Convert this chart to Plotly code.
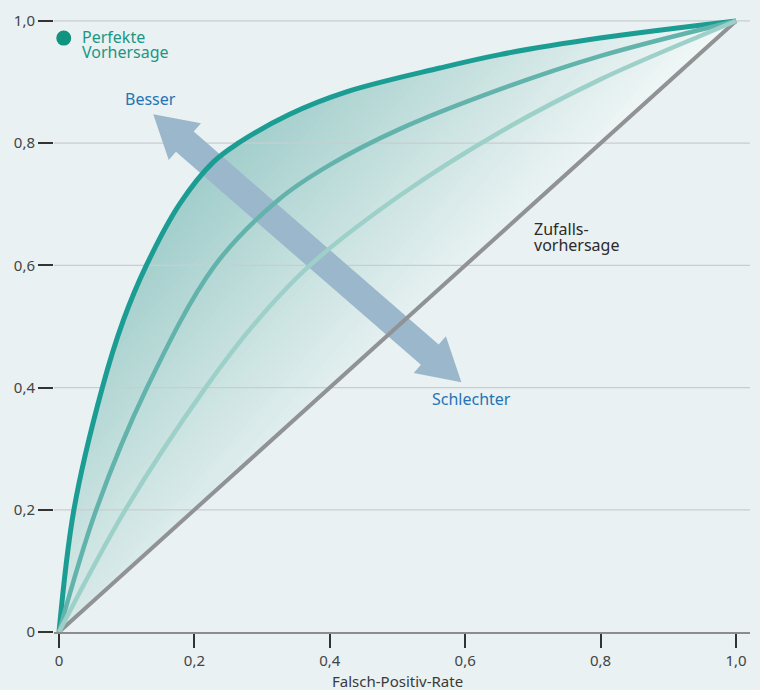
import numpy as np
import plotly.graph_objects as go

# ---------------- data ----------------
best_fpr = [0, 0.022, 0.064, 0.095, 0.129, 0.1786, 0.2278, 0.2647, 0.34, 0.4246, 0.5624, 0.651, 0.799, 1.0]
best_tpr = [0, 0.20, 0.40, 0.51, 0.60, 0.701, 0.769, 0.80, 0.847, 0.884, 0.923, 0.945, 0.972, 1.0]

med_fpr = [0, 0.055, 0.13, 0.2303, 0.326, 0.40, 0.503, 0.651, 0.799, 1.0]
med_tpr = [0, 0.20, 0.40, 0.60, 0.709, 0.7645, 0.823, 0.888, 0.9425, 1.0]

light_fpr = [0, 0.098, 0.2165, 0.2893, 0.3705, 0.503, 0.651, 0.799, 0.946, 1.0]
light_tpr = [0, 0.20, 0.40, 0.505, 0.60, 0.714, 0.818, 0.904, 0.975, 1.0]

diag_fpr = [0, 1]
diag_tpr = [0, 1]

tick_vals = [0, 0.2, 0.4, 0.6, 0.8, 1.0]
tick_text = ["0", "0,2", "0,4", "0,6", "0,8", "1,0"]
grid_vals = [0.2, 0.4, 0.6, 0.8, 1.0]

perfect_x = [0.007]
perfect_y = [0.972]

# arrow end points (data units)
arrow_better = (0.1392, 0.8474)
arrow_worse = (0.5944, 0.4088)

# ---------------- style ----------------
BG = "#e9f1f2"
FONT = "Noto Sans"
X_RANGE = [-0.0074, 1.0207]
Y_RANGE = [0, 1.0065]
PX_X = 677.5   # pixels per data unit (x)
PX_Y = 614.0   # pixels per data unit (y)
SMOOTH = 1.0

C_BEST = "#1b9d93"
C_MED = "#63b3ad"
C_LIGHT = "#9dd0c9"
C_DIAG = "#909295"
C_ARROW = "#9bb7cc"
C_GRID = "#c9cdcf"

fig = go.Figure()

# ---------- diagonal gradient fill between best curve and diagonal ----------
d = np.array([arrow_worse[0] - arrow_better[0], arrow_worse[1] - arrow_better[1]]) * np.array([PX_X, PX_Y])
d = d / np.linalg.norm(d)
gvec = np.array([d[0] * PX_X, d[1] * PX_Y])
gvec = gvec / gvec[0]


def tval(p):
    return p[0] * gvec[0] + p[1] * gvec[1]


def clip(poly, t0):
    out = []
    n = len(poly)
    for i in range(n):
        p = poly[i]
        q = poly[(i + 1) % n]
        tp = tval(p) - t0
        tq = tval(q) - t0
        if tp >= 0:
            out.append(p)
        if (tp >= 0) != (tq >= 0):
            s = tp / (tp - tq)
            out.append((p[0] + s * (q[0] - p[0]), p[1] + s * (q[1] - p[1])))
    return out


DARK = np.array([158, 204, 201])
LIGHT = np.array([242, 247, 247])
T0, T1 = -0.40, 0.20
tri = [(diag_fpr[0], diag_tpr[0]), (0.0, 1.0), (diag_fpr[1], diag_tpr[1])]
N = 50


def rgb(c):
    return "rgb(%d,%d,%d)" % tuple(int(round(v)) for v in c)


polys = [(tri, DARK)]
for k in range(N):
    tk = T0 + (T1 - T0) * k / N
    f = (k + 0.5) / N
    polys.append((clip(tri, tk), DARK + (LIGHT - DARK) * f))

for poly, col in polys:
    if len(poly) < 3:
        continue
    xs = [p[0] for p in poly]
    ys = [p[1] for p in poly]
    fig.add_trace(go.Scatter(x=xs, y=ys, mode="lines", fill="toself", fillcolor=rgb(col),
                             line=dict(width=0), hoverinfo="skip", showlegend=False))

# mask above best curve
fig.add_trace(go.Scatter(x=[0, X_RANGE[0] - 0.05, X_RANGE[0] - 0.05, 1, 1],
                         y=[0, 0, Y_RANGE[1] + 0.05, Y_RANGE[1] + 0.05, 1],
                         mode="lines", line=dict(width=0), hoverinfo="skip", showlegend=False))
fig.add_trace(go.Scatter(x=best_fpr, y=best_tpr, mode="lines",
                         line=dict(width=0, shape="spline", smoothing=SMOOTH),
                         fill="tonexty", fillcolor=BG, hoverinfo="skip", showlegend=False))

# gridlines
for g in grid_vals:
    fig.add_trace(go.Scatter(x=X_RANGE, y=[g, g], mode="lines",
                             line=dict(color=C_GRID, width=1.3), hoverinfo="skip", showlegend=False))

# ---------- double arrow ----------
HEAD_LEN = 42.0
HEAD_HALF = 24.5
SHAFT_HALF = 13.5
a = np.array(arrow_better) * np.array([PX_X, PX_Y])
b = np.array(arrow_worse) * np.array([PX_X, PX_Y])
u = (b - a) / np.linalg.norm(b - a)
n = np.array([-u[1], u[0]])
ba = a + u * HEAD_LEN
bb = b - u * HEAD_LEN
pts = [a, ba + n * HEAD_HALF, ba + n * SHAFT_HALF, bb + n * SHAFT_HALF, bb + n * HEAD_HALF, b,
       bb - n * HEAD_HALF, bb - n * SHAFT_HALF, ba - n * SHAFT_HALF, ba - n * HEAD_HALF]
fig.add_trace(go.Scatter(x=[p[0] / PX_X for p in pts], y=[p[1] / PX_Y for p in pts],
                         mode="lines", fill="toself", fillcolor=C_ARROW,
                         line=dict(width=0), hoverinfo="skip", showlegend=False))

# ---------- curves ----------
fig.add_trace(go.Scatter(x=diag_fpr, y=diag_tpr, mode="lines",
                         line=dict(color=C_DIAG, width=4), showlegend=False))
fig.add_trace(go.Scatter(x=best_fpr, y=best_tpr, mode="lines",
                         line=dict(color=C_BEST, width=5, shape="spline", smoothing=SMOOTH), showlegend=False))
fig.add_trace(go.Scatter(x=med_fpr, y=med_tpr, mode="lines",
                         line=dict(color=C_MED, width=4.5, shape="spline", smoothing=SMOOTH), showlegend=False))
fig.add_trace(go.Scatter(x=light_fpr, y=light_tpr, mode="lines",
                         line=dict(color=C_LIGHT, width=4.5, shape="spline", smoothing=SMOOTH), showlegend=False))

fig.add_trace(go.Scatter(x=perfect_x, y=perfect_y, mode="markers",
                         marker=dict(size=15, color="#10947f"), showlegend=False, cliponaxis=False))

# ---------- annotations ----------
ann = []


def add_text(text, x, y, color, xanchor="left", size=16, xref="x", yref="y"):
    ann.append(dict(text=text, x=x, y=y, xref=xref, yref=yref, showarrow=False,
                    xanchor=xanchor, yanchor="middle",
                    font=dict(family=FONT, size=size, color=color)))


add_text("Perfekte", 0.031, 0.9739, "#1b9686")
add_text("Vorhersage", 0.031, 0.9495, "#1b9686")
add_text("Besser", 0.1358, 0.8718, "#2574b5", xanchor="center")
add_text("Schlechter", 0.6091, 0.3816, "#2574b5", xanchor="center")
add_text("Zufalls-", 0.6992, 0.660, "#2b2b2b")
add_text("vorhersage", 0.6992, 0.634, "#2b2b2b")
add_text("Falsch-Positiv-Rate", 0.5, -0.079, "#3a3a3a", xanchor="center", size=15, yref="paper")

fig.update_layout(
    width=760, height=690,
    margin=dict(l=54, r=10, t=14, b=58),
    paper_bgcolor=BG, plot_bgcolor=BG,
    font=dict(family=FONT, size=15, color="#444444"),
    annotations=ann,
    xaxis=dict(range=X_RANGE, tickvals=tick_vals, ticktext=tick_text, ticks="outside",
               ticklen=14, tickwidth=1.5, tickcolor="#333333", showline=True,
               linecolor="#8c8c8c", linewidth=2, showgrid=False, zeroline=False,
               tickfont=dict(family=FONT, size=15, color="#444444")),
    yaxis=dict(range=Y_RANGE, tickvals=tick_vals, ticktext=tick_text, ticks="outside",
               ticklen=15, tickwidth=1.5, tickcolor="#333333", showline=False,
               showgrid=False, zeroline=False,
               tickfont=dict(family=FONT, size=15, color="#444444")),
)

fig.write_html("out.html", config={"displayModeBar": False},
               post_script="document.body.style.margin='0px';"
                           "document.body.style.background='" + BG + "';")
